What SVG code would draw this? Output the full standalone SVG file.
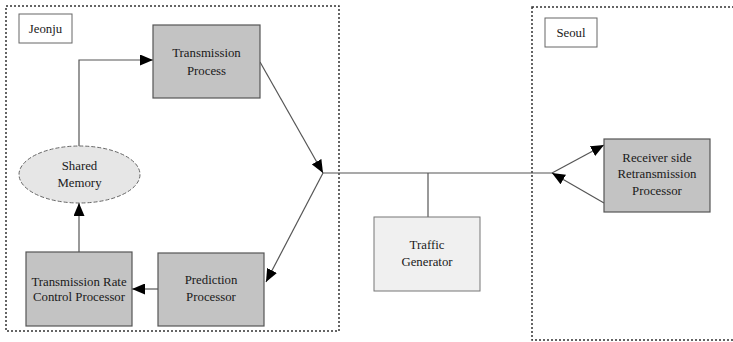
<svg xmlns="http://www.w3.org/2000/svg" width="733" height="342" viewBox="0 0 733 342">
  <style>
    .region { fill: none; stroke: #333; stroke-width: 1.5; stroke-dasharray: 2 2; }
    .tag { fill: #fff; stroke: #666; stroke-width: 1; }
    .proc { fill: #c3c3c3; stroke: #555; stroke-width: 1.2; }
    .light { fill: #f0f0f0; stroke: #777; stroke-width: 1; }
    .mem { fill: #e6e6e6; stroke: #666; stroke-width: 1; stroke-dasharray: 4 2; }
    .wire { fill: none; stroke: #555; stroke-width: 1.2; }
    text { font-family: "Liberation Serif", "DejaVu Serif", "Times New Roman", serif; font-size: 12.8px; fill: #1a1a1a; text-anchor: middle; }
  </style>
  <defs>
    <marker id="arrow" viewBox="0 0 13 11" refX="13" refY="5.5" markerWidth="13" markerHeight="11" markerUnits="userSpaceOnUse" orient="auto">
      <path d="M0,0 L13,5.5 L0,11 Z" fill="#000"/>
    </marker>
  </defs>

  <rect width="733" height="342" fill="#fff"/>

  <!-- site regions -->
  <g id="jeonju">
    <rect class="region" x="6" y="6" width="333" height="325"/>
    <rect class="tag" x="19" y="14" width="53" height="29"/>
    <text x="45.5" y="33">Jeonju</text>
  </g>
  <g id="seoul">
    <rect class="region" x="532" y="7" width="210" height="333"/>
    <rect class="tag" x="545" y="18" width="52" height="29"/>
    <text x="571" y="37">Seoul</text>
  </g>

  <!-- connectors -->
  <g id="connectors">
    <polyline class="wire" points="79,146 79,60 153,60" marker-end="url(#arrow)"/>
    <line class="wire" x1="79" y1="252" x2="79" y2="203" marker-end="url(#arrow)"/>
    <line class="wire" x1="158" y1="289" x2="132" y2="289" marker-end="url(#arrow)"/>
    <line class="wire" x1="260" y1="62" x2="323" y2="173" marker-end="url(#arrow)"/>
    <line class="wire" x1="323" y1="173" x2="266" y2="282" marker-end="url(#arrow)"/>
    <line class="wire" x1="323" y1="173" x2="552" y2="173"/>
    <line class="wire" x1="428" y1="173" x2="428" y2="217"/>
    <line class="wire" x1="552" y1="173" x2="604" y2="145" marker-end="url(#arrow)"/>
    <line class="wire" x1="604" y1="203" x2="552" y2="173" marker-end="url(#arrow)"/>
  </g>

  <!-- nodes -->
  <g id="transmission-process">
    <rect class="proc" x="153" y="25" width="107" height="73"/>
    <text x="206.5" y="57">Transmission</text>
    <text x="206.5" y="75">Process</text>
  </g>
  <g id="shared-memory">
    <ellipse class="mem" cx="79.5" cy="174.5" rx="60.5" ry="28.5"/>
    <text x="79.5" y="170">Shared</text>
    <text x="79.5" y="187">Memory</text>
  </g>
  <g id="rate-control">
    <rect class="proc" x="26" y="252" width="106" height="74"/>
    <text x="79" y="286">Transmission Rate</text>
    <text x="79" y="301">Control Processor</text>
  </g>
  <g id="prediction">
    <rect class="proc" x="158" y="253" width="106" height="73"/>
    <text x="211" y="284">Prediction</text>
    <text x="211" y="301">Processor</text>
  </g>
  <g id="traffic-generator">
    <rect class="light" x="374" y="217" width="106" height="74"/>
    <text x="427" y="249">Traffic</text>
    <text x="427" y="266">Generator</text>
  </g>
  <g id="receiver">
    <rect class="proc" x="604" y="139" width="106" height="73"/>
    <text x="657" y="162">Receiver side</text>
    <text x="657" y="178">Retransmission</text>
    <text x="657" y="195">Processor</text>
  </g>
</svg>
